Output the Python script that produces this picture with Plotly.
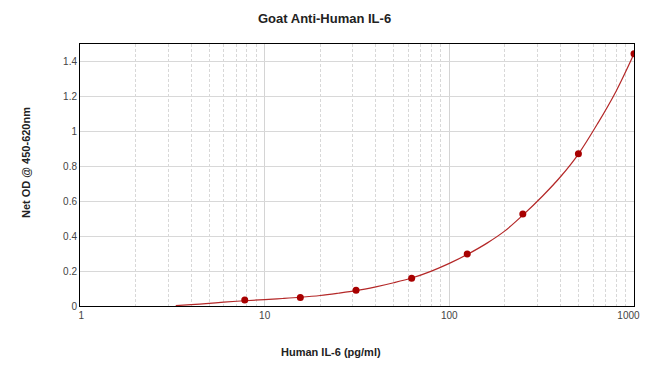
import plotly.graph_objects as go

# Standard points
conc = [7.8, 15.6, 31.25, 62.5, 125, 250, 500, 1000]
od = [0.034, 0.048, 0.09, 0.159, 0.298, 0.527, 0.871, 1.444]

# Fitted curve
curve_x = [3.3, 4, 5, 6, 7.8, 10, 12.5, 15.6, 20, 25, 31.25, 40, 50, 62.5, 80, 100, 125, 160, 200, 250, 320, 400, 500, 640, 800, 1000]
curve_y = [0.002, 0.008, 0.015, 0.022, 0.03, 0.037, 0.043, 0.05, 0.06, 0.073, 0.088, 0.11, 0.133, 0.16, 0.2, 0.244, 0.295, 0.36, 0.43, 0.52, 0.63, 0.74, 0.87, 1.05, 1.23, 1.444]

x_ticks = [1, 10, 100, 1000]
x_ticklabels = ["\u00a01", "10", "100", "1000\u00a0\u00a0\u00a0\u00a0"]
x_minor = [m * d for d in (1, 10, 100) for m in range(2, 10)]
y_ticks = [0, 0.2, 0.4, 0.6, 0.8, 1, 1.2, 1.4]
y_ticklabels = ["0", "0.2", "0.4", "0.6", "0.8", "1", "1.2", "1.4"]

fig = go.Figure()
fig.add_trace(go.Scatter(x=curve_x, y=curve_y, mode="lines", line=dict(color="#b42828", width=1.2, shape="spline"), hoverinfo="skip"))
fig.add_trace(go.Scatter(x=conc, y=od, mode="markers", marker=dict(color="#a80000", size=7)))

# page body has an 8px margin, so the figure is drawn at (8, 8)
fig.update_layout(
    width=642, height=364,
    margin=dict(l=72, r=16, t=36, b=66, autoexpand=False),
    paper_bgcolor="white", plot_bgcolor="white",
    showlegend=False,
    font=dict(family="Liberation Sans, Arial, sans-serif", color="#333", size=10),
    annotations=[
        dict(text="<b>Goat Anti-Human IL-6</b>", xref="paper", yref="paper", x=(324-80)/554, y=(306-19)/262,
             xanchor="center", yanchor="middle", showarrow=False, font=dict(size=13, color="#222")),
        dict(text="<b>Human IL-6 (pg/ml)</b>", xref="paper", yref="paper", x=(331-80)/554, y=-(352-306)/262,
             xanchor="center", yanchor="middle", showarrow=False, font=dict(size=11, color="#222")),
        dict(text="<b>Net OD @ 450-620nm</b>", xref="paper", yref="paper", x=-(80-26)/554, y=(306-163)/262, textangle=-90,
             xanchor="center", yanchor="middle", showarrow=False, font=dict(size=11, color="#222")),
    ],
)
fig.update_xaxes(
    type="log", range=[0, 3], tickvals=x_ticks, ticktext=x_ticklabels, automargin=False,
    ticklabeloverflow="allow",
    showline=True, linecolor="black", linewidth=1, mirror=True,
    showgrid=True, gridcolor="#d4d4d4", gridwidth=1,
    ticks="", tickfont=dict(size=10, color="#444"),
    minor=dict(showgrid=True, gridcolor="#d8d8d8", griddash="3px,2px", tickvals=x_minor, ticks=""),
    zeroline=False,
)
fig.update_yaxes(
    range=[0, 1.5], tickvals=y_ticks, ticktext=y_ticklabels, automargin=False,
    showline=True, linecolor="black", linewidth=1, mirror=True,
    showgrid=True, gridcolor="#d8d8d8", gridwidth=1,
    ticks="", tickfont=dict(size=10, color="#444"), zeroline=False,
)
fig.write_html("out.html")
